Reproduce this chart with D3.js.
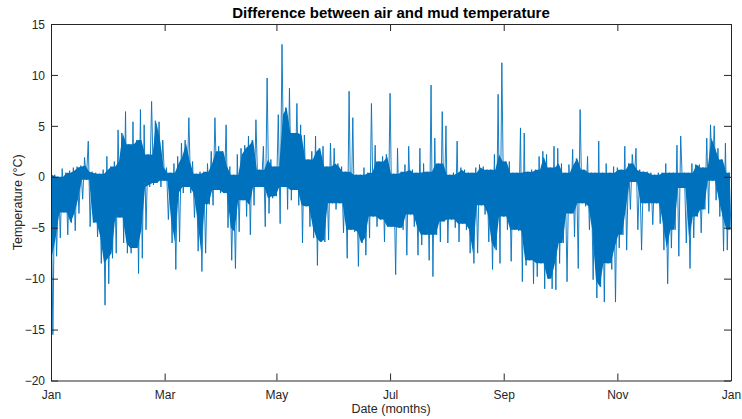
<!DOCTYPE html>
<html>
<head>
<meta charset="utf-8">
<script src="https://cdn.jsdelivr.net/npm/d3@7/dist/d3.min.js"></script>
<style>
  html, body { margin: 0; padding: 0; background: #fff; }
  svg { display: block; }
  text { font-family: "Liberation Sans", Arial, Helvetica, sans-serif; fill: #262626; }
</style>
</head>
<body>
<script>
// ---- data ----
// upper and lower extremes of the temperature difference, one pair per 2-day window
const sampleStepDays = 2;
const windowMax = [
  0.3, 0.2, 0.0, 0.8, 0.4, 0.6, 0.9, 1.0, 1.1, 1.9,
  3.5, 0.5, 0.4, 0.3, 0.7, 2.0, 1.0, 1.5, 4.6, 4.3,
  6.4, 3.2, 5.4, 3.6, 6.6, 5.1, 2.2, 7.4, 5.5, 5.4,
  3.6, 0.9, 0.4, 1.3, 2.0, 3.3, 3.6, 5.8, 1.5, 0.3,
  0.5, 0.5, 1.3, 2.5, 5.8, 3.0, 2.5, 5.1, 1.0, 0.2,
  2.2, 2.8, 3.1, 4.0, 3.6, 5.6, 0.7, 3.0, 9.7, 1.7,
  1.0, 6.1, 13.0, 6.8, 8.7, 4.3, 7.2, 5.1, 4.1, 1.7,
  2.5, 4.0, 2.8, 3.0, 1.0, 3.3, 2.8, 1.3, 1.0, 0.5,
  8.4, 5.8, 0.2, 0.2, 0.9, 0.4, 7.2, 3.1, 1.5, 2.0,
  2.2, 8.2, 0.3, 2.8, 0.5, 1.2, 3.0, 0.7, 0.4, 2.8,
  1.3, 0.5, 9.0, 3.8, 1.3, 6.4, 5.0, 0.2, 0.4, 3.5,
  0.9, 0.7, 0.4, 0.4, 0.9, 1.2, 1.0, 0.7, 0.7, 2.2,
  8.1, 11.2, 1.5, 1.5, 0.4, 0.4, 4.8, 4.3, 0.5, 0.7,
  0.7, 2.0, 2.5, 2.2, 0.9, 3.0, 2.8, 1.3, 0.4, 1.2,
  2.7, 1.8, 6.6, 0.7, 2.0, 0.4, 0.4, 3.5, 0.4, 1.3,
  0.4, 1.0, 0.9, 0.7, 3.0, 1.3, 2.2, 2.8, 0.7, 0.5,
  0.5, 0.4, 0.2, 0.4, 0.4, 1.3, 0.4, 0.4, 3.1, 4.0,
  0.4, 0.4, 1.3, 1.2, 1.2, 0.9, 3.8, 5.1, 5.0, 2.8,
  1.7, 3.3, 0.4
];
const windowMin = [
  -15.5, -7.8, -6.0, -3.5, -5.7, -4.5, -5.3, -3.6, -2.2, -0.3,
  -4.9, -4.5, -5.9, -8.5, -12.6, -10.5, -8.0, -7.5, -4.0, -6.5,
  -7.5, -7.5, -7.0, -9.5, -8.0, -5.2, -1.0, -0.8, -0.6, -1.0,
  -0.4, -4.2, -6.5, -9.1, -6.4, -1.6, -1.0, -1.6, -4.0, -7.3,
  -9.3, -7.5, -2.7, -2.8, -1.3, -1.6, -1.6, -5.0, -8.2, -9.0,
  -5.4, -2.3, -3.9, -5.7, -2.8, -1.0, -1.0, -4.9, -3.6, -2.1,
  -1.9, -4.6, -1.0, -3.2, -2.3, -1.3, -2.8, -6.5, -2.9, -4.9,
  -6.0, -8.7, -6.4, -6.4, -6.2, -2.6, -3.2, -2.6, -5.5, -8.0,
  -5.2, -5.4, -8.8, -6.5, -7.7, -6.0, -3.9, -4.9, -4.2, -6.4,
  -4.9, -4.9, -9.6, -5.0, -5.2, -7.7, -3.7, -4.9, -7.7, -6.7,
  -5.7, -8.2, -9.8, -5.7, -6.4, -4.4, -6.5, -4.2, -5.0, -6.4,
  -4.6, -5.2, -7.5, -8.5, -7.5, -2.8, -3.7, -6.4, -9.1, -7.2,
  -8.5, -3.9, -5.2, -8.3, -5.2, -5.3, -10.3, -8.7, -8.2, -10.5,
  -9.8, -8.5, -11.0, -10.0, -11.0, -11.1, -8.5, -6.5, -10.3, -3.6,
  -5.9, -9.0, -2.6, -2.9, -5.2, -10.1, -11.9, -10.8, -12.3, -8.5,
  -9.1, -12.3, -7.0, -5.7, -7.2, -3.2, -0.5, -5.2, -7.2, -2.6,
  -3.4, -4.7, -2.6, -4.6, -7.2, -10.5, -7.0, -5.2, -7.8, -1.1,
  -6.5, -9.0, -6.0, -3.9, -5.5, -3.2, -3.6, -0.4, -2.3, -3.9,
  -7.3, -7.2, -5.2
];
const xDomainDays = [0, 365];
const xTickDays = [0, 61, 121, 182, 243, 304, 365];
const xTickLabels = ["Jan", "Mar", "May", "Jul", "Sep", "Nov", "Jan"];
const yDomain = [-20, 15];
const yTicks = [-20, -15, -10, -5, 0, 5, 10, 15];

const titleText = "Difference between air and mud temperature";
const xLabelText = "Date (months)";
const yLabelText = "Temperature (\u00B0C)";

// ---- layout ----
const W = 742, H = 419;
const mLeft = 51, mRight = 731, mTop = 24, mBottom = 380.5;
const lineColor = "#0072BD";

const svg = d3.select("body").append("svg").attr("width", W).attr("height", H);

const x = d3.scaleLinear().domain(xDomainDays).range([mLeft, mRight]);
const y = d3.scaleLinear().domain(yDomain).range([mBottom, mTop]);

// build the series: max then min within each window
const series = [];
windowMax.forEach((v, i) => {
  series.push({ d: i * sampleStepDays, v: v });
  series.push({ d: i * sampleStepDays + 1, v: windowMin[i] });
});

// dense core of the signal: range shared by each window and its neighbours
const n = windowMax.length;
const core = windowMax.map((v, i) => {
  const a = Math.max(0, i - 1), b = Math.min(n - 1, i + 1);
  return {
    d: i * sampleStepDays + 0.5,
    hi: Math.min(windowMax[a], windowMax[i], windowMax[b]),
    lo: Math.max(windowMin[a], windowMin[i], windowMin[b])
  };
});

svg.append("defs").append("clipPath").attr("id", "clip")
  .append("rect").attr("x", mLeft).attr("y", mTop).attr("width", mRight - mLeft).attr("height", mBottom - mTop);

const plot = svg.append("g").attr("clip-path", "url(#clip)");

plot.append("path")
  .datum(core)
  .attr("fill", lineColor)
  .attr("stroke", "none")
  .attr("d", d3.area().x(p => x(p.d)).y0(p => y(p.lo)).y1(p => y(p.hi)));

plot.append("path")
  .datum(series)
  .attr("fill", "none")
  .attr("stroke", lineColor)
  .attr("stroke-width", 0.9)
  .attr("d", d3.line().x(p => x(p.d)).y(p => y(p.v)));

const axisColor = "#262626";
const tickLen = 7;

// bottom axis
const xAxis = d3.axisBottom(x).tickValues(xTickDays).tickFormat((d, i) => xTickLabels[i])
  .tickSizeInner(-tickLen).tickSizeOuter(0).tickPadding(10);
const gx = svg.append("g").attr("transform", `translate(0,${mBottom})`).call(xAxis);
// top axis
const gxt = svg.append("g").attr("transform", `translate(0,${mTop})`)
  .call(d3.axisTop(x).tickValues(xTickDays).tickFormat("").tickSizeInner(-tickLen).tickSizeOuter(0));
// left axis
const yAxis = d3.axisLeft(y).tickValues(yTicks).tickFormat(d3.format("d"))
  .tickSizeInner(-tickLen).tickSizeOuter(0).tickPadding(6);
const gy = svg.append("g").attr("transform", `translate(${mLeft},0)`).call(yAxis);
// right axis
const gyr = svg.append("g").attr("transform", `translate(${mRight},0)`)
  .call(d3.axisRight(y).tickValues(yTicks).tickFormat("").tickSizeInner(-tickLen).tickSizeOuter(0));

[gx, gxt, gy, gyr].forEach(g => {
  g.selectAll(".domain").attr("stroke", axisColor).attr("stroke-width", 1);
  g.selectAll(".tick line").attr("stroke", axisColor).attr("stroke-width", 1);
  g.selectAll(".tick text").attr("fill", axisColor).style("font-size", "12px")
    .style("font-family", "'Liberation Sans', Arial, sans-serif");
});
gy.selectAll(".tick text").attr("dy", "0.35em");

// title and labels
svg.append("text").attr("x", (mLeft + mRight) / 2).attr("y", 18)
  .attr("text-anchor", "middle").style("font-weight", "bold").style("font-size", "15px")
  .style("fill", "#000").text(titleText);
svg.append("text").attr("x", (mLeft + mRight) / 2).attr("y", 413)
  .attr("text-anchor", "middle").style("font-size", "12.5px").text(xLabelText);
svg.append("text").attr("transform", `translate(22,${(mTop + mBottom) / 2}) rotate(-90)`)
  .attr("text-anchor", "middle").style("font-size", "12.5px").text(yLabelText);
</script>
</body>
</html>
